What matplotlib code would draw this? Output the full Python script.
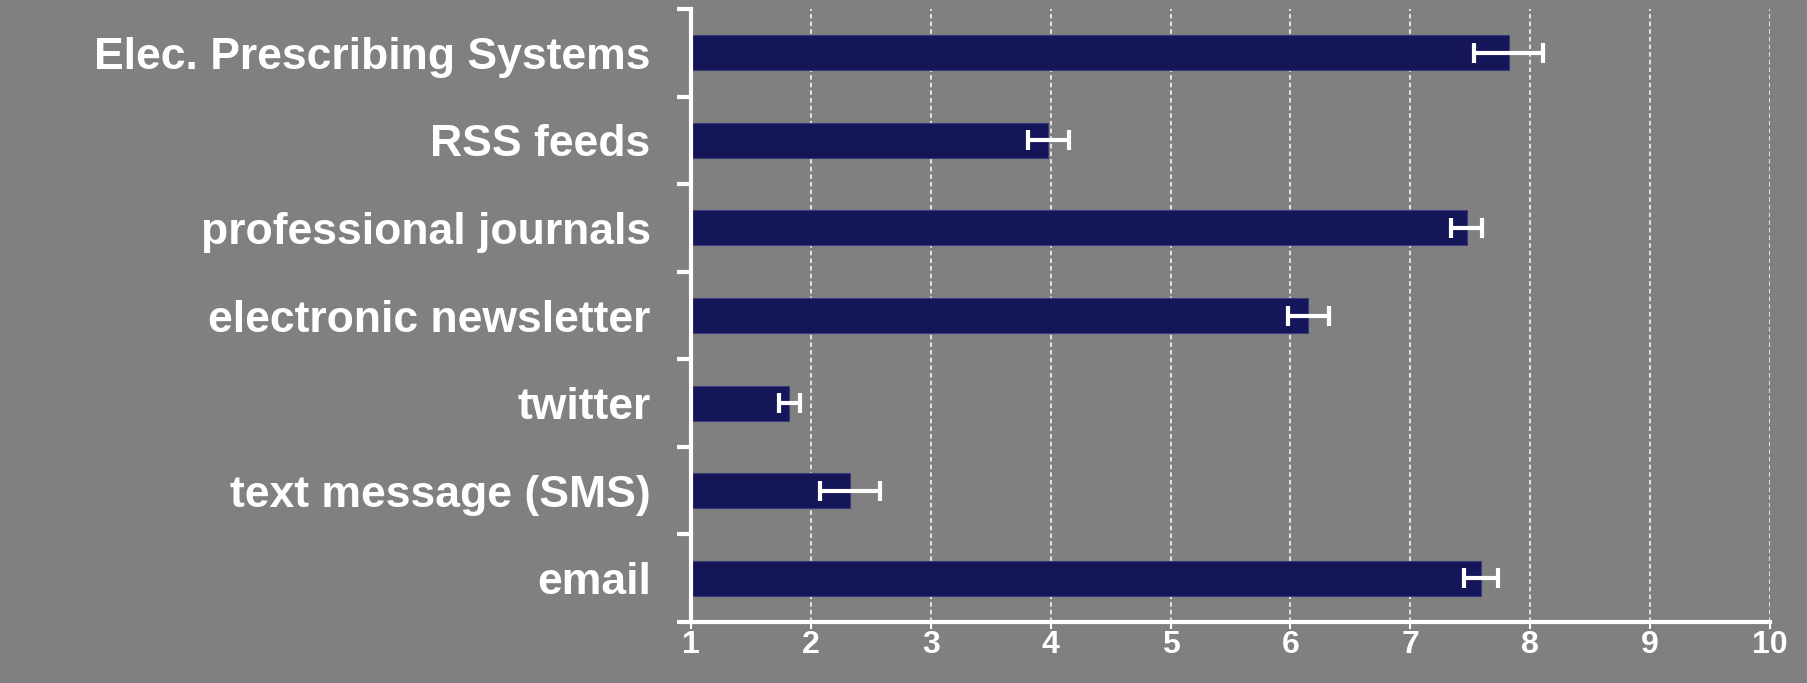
import matplotlib.pyplot as plt
import numpy as np

# survey scores (1-10) per channel, listed bottom to top
channels = ['email', 'text message (SMS)', 'twitter', 'electronic newsletter',
            'professional journals', 'RSS feeds', 'Elec. Prescribing Systems']
scores = [7.59, 2.33, 1.82, 6.15, 7.47, 3.98, 7.82]
errors = [0.14, 0.25, 0.09, 0.17, 0.13, 0.17, 0.29]
xticks = [1, 2, 3, 4, 5, 6, 7, 8, 9, 10]

grey = '#808080'
navy = '#15155a'
font = ['Liberation Sans', 'DejaVu Sans']

fig = plt.figure(figsize=(18.08, 6.83), dpi=100, facecolor=grey)
ax = fig.add_axes([0.3822, 0.0893, 0.5968, 0.8975], facecolor=grey)

y = np.arange(len(channels))
ax.barh(y, np.array(scores) - 1, left=1, height=0.4, color=navy,
        edgecolor='#3a3a78', linewidth=0.8, zorder=3)
ax.errorbar(scores, y, xerr=errors, fmt='none', ecolor='white',
            elinewidth=3, capsize=7, capthick=3, zorder=4)

ax.set_xlim(1, 10)
ax.set_ylim(-0.5, len(channels) - 0.5)

ax.set_xticks(xticks)
ax.set_xticklabels([str(t) for t in xticks], fontsize=23, fontweight='bold',
                   color='white', family=font)
ax.tick_params(axis='x', direction='out', length=5, width=1.5, color='white', pad=1)

ax.set_yticks(y)
ax.set_yticklabels(channels, fontsize=32, fontweight='bold', color='white', family=font)
ax.tick_params(axis='y', which='major', length=0, pad=29)
ax.set_yticks(np.arange(len(channels) + 1) - 0.5, minor=True)
ax.tick_params(axis='y', which='minor', direction='out', length=10, width=3, color='white')

ax.grid(axis='x', color='white', linestyle=(0, (3, 2)), linewidth=1.1, zorder=1)
ax.set_axisbelow(True)

for side in ['top', 'right']:
    ax.spines[side].set_visible(False)
for side in ['left', 'bottom']:
    ax.spines[side].set_color('white')
    ax.spines[side].set_linewidth(3)
    ax.spines[side].set_zorder(5)

plt.savefig('out.png', facecolor=grey)
